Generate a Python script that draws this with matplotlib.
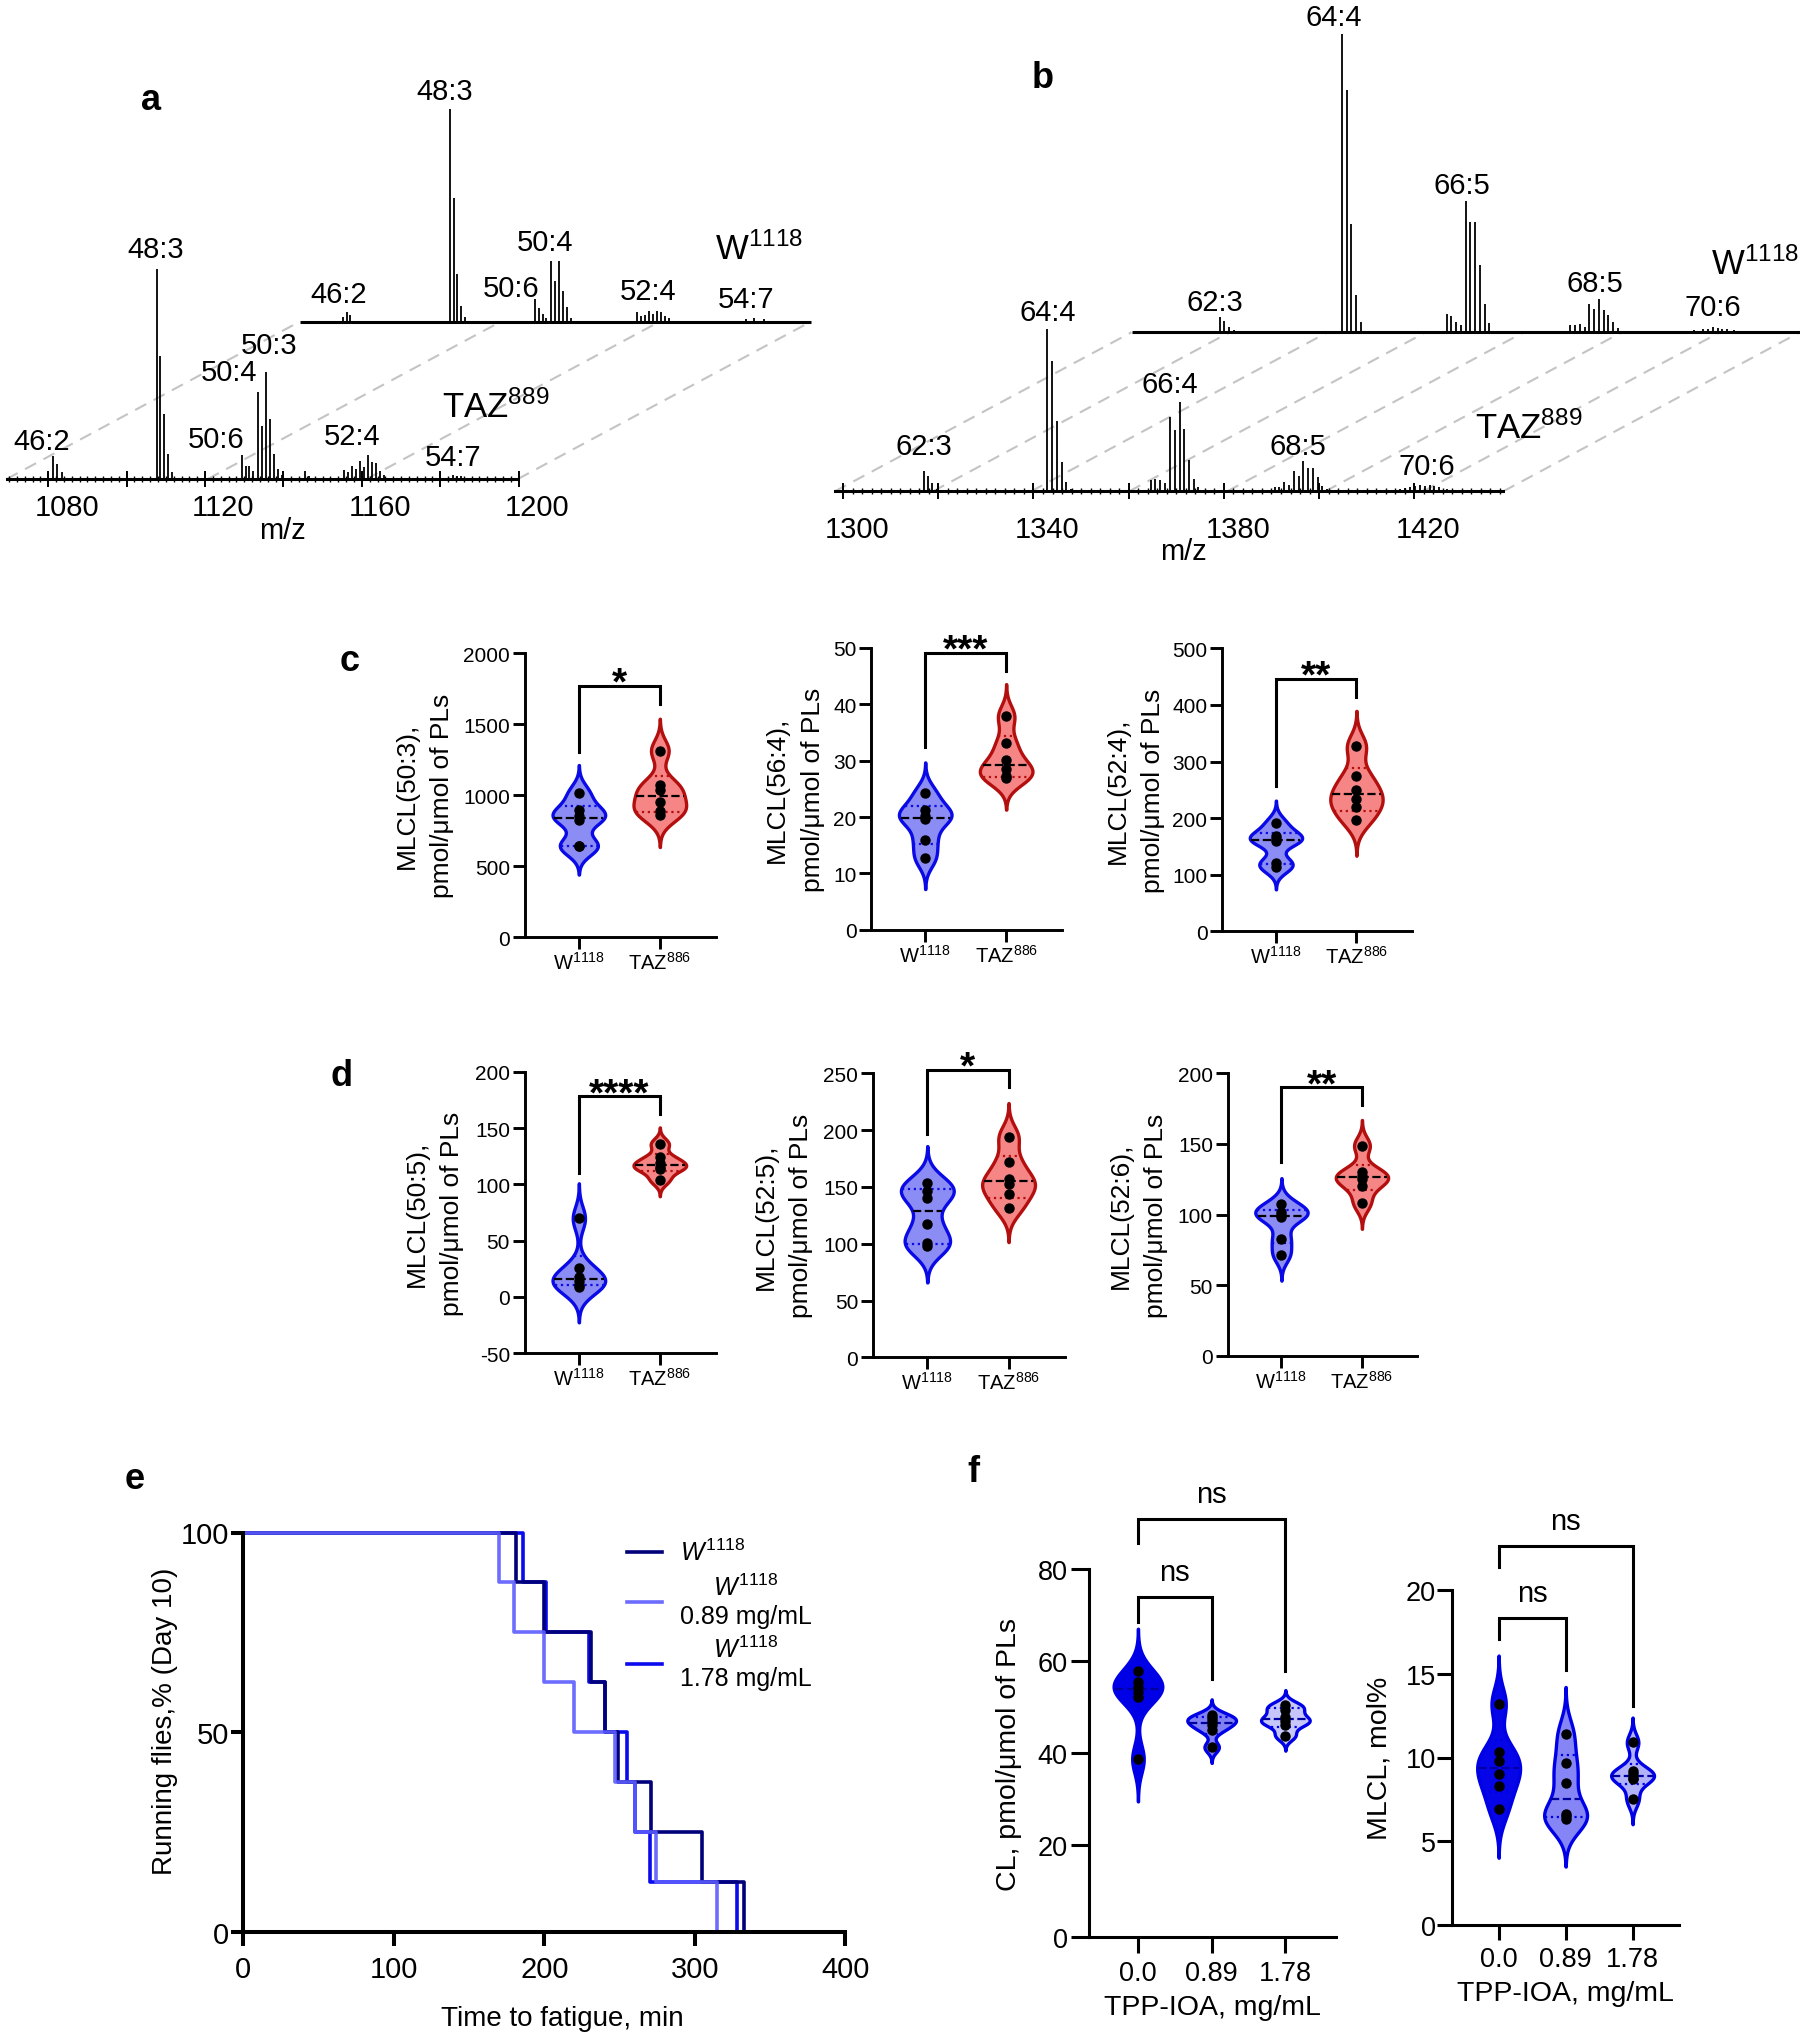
import numpy as np
import matplotlib
matplotlib.use('Agg')
import matplotlib.pyplot as plt
from matplotlib import mlab

plt.rcParams['font.family'] = ['Liberation Sans', 'DejaVu Sans']
plt.rcParams['mathtext.fontset'] = 'custom'
plt.rcParams['mathtext.rm'] = 'Liberation Sans'
plt.rcParams['mathtext.it'] = 'Liberation Sans:italic'
plt.rcParams['mathtext.bf'] = 'Liberation Sans:bold'
plt.rcParams['axes.unicode_minus'] = False

# ---------------- a: MS spectra, TAZ889 (front) and W1118 (back) ----------------
a_taz_mz = [1076.6, 1077.6, 1078.7, 1103.0, 1103.9, 1104.8, 1105.8, 1106.8,
            1124.6, 1125.7, 1126.6, 1127.6, 1128.7, 1129.7, 1130.8, 1131.9, 1132.9, 1133.9, 1134.9,
            1140.8, 1141.8, 1150.8, 1151.7, 1152.7, 1153.8, 1154.8, 1155.8, 1156.9, 1157.9,
            1158.9, 1159.9, 1161.0, 1178.6, 1179.6, 1180.6]
a_taz_int = [11.1, 7.1, 3.2, 100, 58.6, 31.0, 11.9, 3.2,
             11.4, 6.3, 6.3, 4.0, 41.6, 25.4, 51.1, 28.6, 11.9, 4.8, 1.9,
             3.7, 1.5, 4.3, 3.2, 6.3, 4.8, 8.7, 5.6, 11.4, 7.9,
             7.5, 4.0, 1.9, 1.9, 1.5, 1.2]
a_w_mz = [1075.6, 1076.6, 1077.6, 1103.0, 1103.9, 1104.8, 1105.8, 1106.8,
          1124.6, 1125.7, 1126.6, 1127.6, 1128.7, 1129.7, 1130.8, 1131.9, 1132.9, 1133.9,
          1150.8, 1151.7, 1152.7, 1153.8, 1154.8, 1155.8, 1156.9, 1157.9, 1158.9,
          1178.6, 1180.6, 1183.0]
a_w_int = [2.0, 4.3, 3.0, 101, 59, 22.5, 7.5, 2.0,
           10.6, 6.6, 3.5, 1.5, 28.9, 19.4, 28.6, 14.3, 6.7, 1.5,
           4.3, 2.5, 3.0, 4.8, 3.8, 4.8, 4.3, 2.5, 1.5,
           1.2, 1.5, 1.0]
a_ticklabels = [1080, 1120, 1160, 1200]

# ---------------- b: MS spectra, higher m/z ----------------
b_taz_mz = [1314.0, 1314.9, 1315.8, 1316.8, 1339.9, 1340.9, 1342.0, 1343.0, 1343.9, 1344.9,
            1361.7, 1362.7, 1363.7, 1364.7, 1365.8, 1366.8, 1367.9, 1368.8, 1369.8, 1370.8, 1371.7,
            1387.8, 1388.7, 1389.8, 1390.8, 1391.8, 1392.8, 1393.8, 1394.8, 1395.8, 1396.8, 1397.8, 1398.8,
            1414.1, 1415.1, 1416.2, 1417.2, 1418.3, 1419.3, 1420.3, 1421.3, 1422.3, 1423.9]
b_taz_int = [12.8, 9.7, 5.1, 1.4, 100, 80.5, 43.6, 18.3, 6.0, 1.4,
             7.0, 7.6, 7.2, 4.9, 46.0, 37.8, 55.3, 38.4, 19.3, 7.6, 2.5,
             2.5, 2.5, 5.5, 4.1, 12.8, 9.7, 18.5, 14.2, 14.2, 9.1, 3.5, 1.4,
             1.5, 2.0, 2.5, 3.0, 4.0, 3.5, 4.0, 3.0, 2.5, 1.5]
b_w_mz = [1313.9, 1314.9, 1315.9, 1316.9, 1339.6, 1340.6, 1341.6, 1342.6, 1343.6,
          1361.6, 1362.6, 1363.6, 1364.6, 1365.6, 1366.6, 1367.6, 1368.6, 1369.6, 1370.6,
          1387.6, 1388.6, 1389.6, 1390.6, 1391.6, 1392.6, 1393.6, 1394.6, 1395.6, 1396.6, 1397.6,
          1413.5, 1415.5, 1416.5, 1417.5, 1418.5, 1419.5, 1420.5, 1422.0]
b_w_int = [9.2, 7.0, 3.3, 1.2, 183.6, 149, 66.5, 23.1, 6.6,
           11, 9.9, 6.6, 4.3, 81, 68.2, 67.8, 41.2, 17.6, 5.9,
           4.5, 4.5, 5.1, 3.5, 17.4, 14.4, 20.5, 14.0, 10.7, 6.6, 2.5,
           1.2, 1.8, 2.2, 3.0, 2.5, 2.2, 1.8, 1.2]
b_ticklabels = [1300, 1340, 1380, 1420]

# ---------------- c, d: MLCL species, W1118 vs TAZ886 ----------------
c1_w = [1015, 895, 855, 825, 645, 640]
c1_taz = [1315, 1075, 1035, 950, 890, 860]
c2_w = [24.2, 21.3, 20.1, 19.6, 16.0, 12.7]
c2_taz = [37.9, 33.1, 30.1, 28.5, 27.2, 27.0]
c3_w = [191, 168, 163, 160, 121, 114]
c3_taz = [327, 275, 250, 234, 219, 196]
d1_w = [69.8, 25.7, 17.5, 13.9, 10.9, 8.6]
d1_taz = [136, 124, 119, 115, 114, 104]
d2_w = [153.5, 146.7, 140, 117.4, 100.4, 98.3]
d2_taz = [194, 171.7, 157, 152.6, 143.8, 131.2]
d3_w = [107.4, 102, 100, 98, 83, 71.5]
d3_taz = [148.8, 130.3, 127.5, 125, 120, 108]
cd_species = ['50:3', '56:4', '52:4', '50:5', '52:5', '52:6']
cd_stars = ['*', '***', '**', '****', '*', '**']
cd_categories = [r'$\mathregular{W^{1118}}$', r'$\mathregular{TAZ^{886}}$']

# ---------------- e: time to fatigue (8 flies per group) ----------------
e_times_w = [0, 181, 200, 231, 240, 249, 271, 305, 333]
e_times_089 = [0, 170, 180, 200, 220, 247, 260, 274, 315]
e_times_178 = [0, 186, 201, 230, 240, 255, 260, 270, 328]
e_running = [100, 87.5, 75, 62.5, 50, 37.5, 25, 12.5, 0]

# ---------------- f: TPP-IOA treatment ----------------
f_doses = ['0.0', '0.89', '1.78']
f_cl_0 = [57.9, 55.4, 54.5, 53.4, 52.3, 38.7]
f_cl_089 = [48.3, 47.6, 47.0, 46.2, 45.0, 41.3]
f_cl_178 = [50.5, 49.5, 47.8, 47.0, 46.2, 43.8]
f_mlcl_0 = [13.2, 10.3, 9.8, 9.0, 8.3, 6.9]
f_mlcl_089 = [11.4, 9.7, 8.5, 6.6, 6.5, 6.3]
f_mlcl_178 = [10.9, 9.2, 9.0, 8.8, 8.7, 7.5]

W, H = 1811, 2040
fig = plt.figure(figsize=(W / 100, H / 100), dpi=100)


def axes_px(left, top, right, bottom):
    return fig.add_axes([left / W, 1 - bottom / H, (right - left) / W, (bottom - top) / H])


def spectrum(ax, fmz, fint, bmz, bint, dx, dy, span, guides, major, labels, pad):
    ax.vlines(fmz, 0, fint, color='k', lw=1.3, zorder=3)
    ax.vlines(np.add(bmz, dx), dy, np.add(bint, dy), color='k', lw=1.3, zorder=3)
    ax.hlines(dy, span[0] + dx, span[1] + dx, color='k', lw=2.2, zorder=3)
    for g in guides:
        ax.plot([g, g + dx], [0, dy], color='#c4c4c4', lw=1.5, ls=(0, (6, 4)), zorder=1)
    for s in ('top', 'right', 'left'):
        ax.spines[s].set_visible(False)
    ax.spines['bottom'].set_bounds(*span)
    ax.spines['bottom'].set_linewidth(2.2)
    ax.set_yticks([])
    ax.set_xticks(major)
    start = major[0] - 2 * int((major[0] - span[0]) / 2)
    ax.set_xticks(np.arange(start, span[1] + 0.5, 2), minor=True)
    ax.tick_params(which='major', direction='inout', length=11, width=1.4, labelbottom=False)
    ax.tick_params(which='minor', direction='inout', length=5, width=1.0)
    sec = ax.secondary_xaxis('bottom')
    sec.set_xticks(labels)
    sec.tick_params(length=0, pad=pad, labelsize=21)
    sec.spines['bottom'].set_visible(False)


def put_labels(ax, items, dx=0, dy=0, size=21):
    for txt, x, y in items:
        ax.text(x + dx, y + dy, txt, ha='center', va='center', fontsize=size)


# ---- panel a
ax = axes_px(6.7, 40, 812, 480)
ax.set_xlim(1064.7, 1064.7 + (812 - 6.7) / 3.92)
ax.set_ylim(0, 440 / 2.1)
spectrum(ax, a_taz_mz, a_taz_int, a_w_mz, a_w_int, 74.8, 75.0, (1064.7, 1195.1),
         [1064.7, 1116, 1156.5, 1195.1], np.arange(1075.3, 1196, 20), a_ticklabels, 10)
put_labels(ax, [('46:2', 1073.6, 18.0), ('48:3', 1102.8, 109.5), ('50:6', 1118.1, 19.0),
                ('50:4', 1121.5, 50.8), ('50:3', 1131.7, 63.8), ('52:4', 1152.7, 20.6),
                ('54:7', 1178.6, 10.3)])
put_labels(ax, [('46:2', 1074.6, 13.1), ('48:3', 1101.6, 109.9), ('50:6', 1118.5, 15.8),
                ('50:4', 1127.3, 37.7), ('52:4', 1153.6, 14.7), ('54:7', 1178.6, 10.7)],
           dx=74.8, dy=75.0)
ax.text(1175.7, 34.3, r'$\mathregular{TAZ^{889}}$', fontsize=25, ha='left', va='center')
ax.text(1170.5 + 74.8, 34.5 + 75.0, r'$\mathregular{W^{1118}}$', fontsize=25, ha='left', va='center')
fig.text(282 / W, 1 - 531 / H, 'm/z', fontsize=21, ha='center', va='center')

# ---- panel b
ax = axes_px(835, 0, 1800, 492.3)
ax.set_xlim(1295.4, 1295.4 + 965 / 4.76)
ax.set_ylim(0, 492.3 / 1.623)
spectrum(ax, b_taz_mz, b_taz_int, b_w_mz, b_w_int, 62.3, 98.0, (1295.4, 1435.8),
         [1295.4, 1316, 1336.6, 1357.2, 1377.8, 1398.4, 1419, 1435.8],
         np.arange(1297.1, 1436, 20), b_ticklabels, 17)
put_labels(ax, [('62:3', 1314.1, 28.1), ('64:4', 1340.2, 110.3), ('66:4', 1365.8, 66.1),
                ('68:5', 1392.7, 28.1), ('70:6', 1419.7, 15.6)])
put_labels(ax, [('62:3', 1312.9, 18.5), ('64:4', 1337.9, 194.3), ('66:5', 1364.8, 90.9),
                ('68:5', 1392.7, 30.6), ('70:6', 1417.6, 15.5)], dx=62.3, dy=98.0)
ax.text(1429.9, 39.4, r'$\mathregular{TAZ^{889}}$', fontsize=25, ha='left', va='center')
ax.text(1417.2 + 62.3, 42.1 + 98.0, r'$\mathregular{W^{1118}}$', fontsize=25, ha='left', va='center')
fig.text(1183.6 / W, 1 - 552 / H, 'm/z', fontsize=21, ha='center', va='center')


def violins(ax, groups, fills, edges, meds, width, lw, bw_factor=0.45, cut=3.0):
    stats = []
    for d in groups:
        d = np.asarray(d, float)
        kde = mlab.GaussianKDE(d, bw_factor)
        bw = kde.factor * d.std(ddof=1)
        yy = np.linspace(d.min() - cut * bw, d.max() + cut * bw, 500)
        stats.append(dict(coords=yy, vals=kde.evaluate(yy), mean=d.mean(),
                          median=np.median(d), min=yy[0], max=yy[-1]))
    parts = ax.violin(stats, positions=np.arange(len(groups)), widths=width, showextrema=False)
    for i, (body, st) in enumerate(zip(parts['bodies'], stats)):
        body.set_facecolor(fills[i])
        body.set_edgecolor(edges[i])
        body.set_alpha(1)
        body.set_linewidth(lw)
        body.set_zorder(2)
        half = 0.5 * width * st['vals'] / st['vals'].max() * 0.96
        d = np.asarray(groups[i], float)
        q1, med, q3 = np.percentile(d, [25, 50, 75], method='weibull')
        for q, style, col in ((q1, ':', edges[i]), (q3, ':', edges[i]), (med, '--', meds[i])):
            hw = np.interp(q, st['coords'], half)
            ax.hlines(q, i - hw, i + hw, colors=col, linestyles=style, lw=1.6, zorder=3)
        ax.plot(np.full(len(d), i), d, 'o', color='k', ms=6.5, zorder=4, clip_on=False)


def bracket(ax, x0, x1, legs, text, size, offset, bold):
    yl, yt, yr = legs
    ax.plot([x0, x0, x1, x1], [yl, yt, yt, yr], color='k', lw=2.2, clip_on=False,
            solid_joinstyle='miter')
    ax.annotate(text, xy=((x0 + x1) / 2, yt), xytext=(0, offset), textcoords='offset pixels',
                ha='center', va='baseline', fontsize=size,
                fontweight='bold' if bold else 'normal', annotation_clip=False)


# ---- panels c, d
cd_groups = [(c1_w, c1_taz), (c2_w, c2_taz), (c3_w, c3_taz),
             (d1_w, d1_taz), (d2_w, d2_taz), (d3_w, d3_taz)]
cd_boxes = [(524.6, 654.3, 715.7, 938.3), (871, 649, 1062, 930.7), (1222, 649.3, 1412, 932.3),
            (524.6, 1072.7, 715.7, 1354.3), (872.9, 1074.3, 1064.6, 1358.3),
            (1227.5, 1074.3, 1417.5, 1356.7)]
cd_ylims = [(0, 2000, 500), (0, 50, 10), (0, 500, 100), (-50, 200, 50), (0, 250, 50), (0, 200, 50)]
cd_brackets = [(1307, 1772, 1643), (32.4, 49.2, 46.0), (256, 445.8, 414.6),
               (110.4, 178.4, 162.7), (196.6, 253.2, 237.7), (137, 190, 177.6)]
cd_label_x = [-0.369, -0.243, -0.30, -0.318, -0.313, -0.311]

for (gw, gt), box, (lo, hi, step), br, sp, st, lx in zip(cd_groups, cd_boxes, cd_ylims, cd_brackets,
                                                       cd_species, cd_stars, cd_label_x):
    ax = axes_px(*box)
    violins(ax, [gw, gt], ['#8c8cf5', '#f68686'], ['#0a0ae6', '#b30f0f'], ['k', 'k'], 0.65, 2.4)
    ax.set_xlim(-0.67, 1.69)
    ax.set_ylim(lo, hi)
    ax.set_yticks(np.arange(lo, hi + step / 2, step))
    ax.set_xticks([0, 1])
    ax.set_xticklabels(cd_categories)
    for s in ('top', 'right'):
        ax.spines[s].set_visible(False)
    for s in ('left', 'bottom'):
        ax.spines[s].set_linewidth(2.1)
    ax.tick_params(axis='y', length=9, width=2.1, pad=1.5, labelsize=15)
    ax.tick_params(axis='x', length=8.4, width=2.1, pad=1.5, labelsize=14.5)
    ax.set_ylabel(f'MLCL({sp}),\npmol/μmol of PLs', fontsize=19, linespacing=1.6)
    ax.yaxis.set_label_coords(lx, 0.5)
    bracket(ax, 0, 1, br, st, 28, -8, True)

# ---- panel e
ax = axes_px(243.3, 1533.5, 845.3, 1932.7)
l178, = ax.step(e_times_178, e_running, where='post', color='#0a0aee', lw=2.6, clip_on=False)
lw_, = ax.step(e_times_w, e_running, where='post', color='#00007a', lw=2.6, clip_on=False)
l089, = ax.step(e_times_089, e_running, where='post', color='#5c5cff', lw=2.6, alpha=0.9,
                clip_on=False)
ax.set_xlim(0, 400)
ax.set_ylim(0, 100)
ax.set_xticks([0, 100, 200, 300, 400])
ax.set_yticks([0, 50, 100])
for s in ('top', 'right'):
    ax.spines[s].set_visible(False)
for s in ('left', 'bottom'):
    ax.spines[s].set_linewidth(2.9)
ax.tick_params(axis='y', length=9, width=2.9, pad=1, labelsize=21)
ax.tick_params(axis='x', length=10, width=2.9, pad=7, labelsize=21)
ax.set_xlabel('Time to fatigue, min', fontsize=20)
ax.xaxis.set_label_coords((562.7 - 243.3) / 602, -(2006 - 1932.7) / 399.2)
ax.set_ylabel('Running flies,% (Day 10)', fontsize=20)
ax.yaxis.set_label_coords((178 - 243.3) / 602, (1932.7 - 1721) / 399.2)
leg = ax.legend([lw_, l089, l178],
                [r'$\mathit{W^{1118}}$', r'$\mathit{W^{1118}}$' + '\n0.89 mg/mL',
                 r'$\mathit{W^{1118}}$' + '\n1.78 mg/mL'],
                loc='upper left', bbox_to_anchor=(627 / W, 1 - 1540 / H),
                bbox_transform=fig.transFigure, frameon=False, fontsize=18,
                handlelength=1.4, handletextpad=0.7, labelspacing=0.33,
                borderpad=0, borderaxespad=0)
for t in leg.get_texts():
    t.set_multialignment('center')

# ---- panel f
f_specs = [
    ([f_cl_0, f_cl_089, f_cl_178], (1089.3, 1570.4, 1335.5, 1938), (0, 80, 20), (-0.66, 2.68),
     ['#0000e6', '#8080f4', '#c6c6fb'], 'CL, pmol/μmol of PLs', (-0.273, 0.499),
     [(0, 2, (85.7, 90.9, 57.9)), (0, 1, (68.6, 73.9, 56.1))], 0.66, 11.5, 13, 2.6, 5),
    ([f_mlcl_0, f_mlcl_089, f_mlcl_178], (1452.4, 1591, 1678.8, 1926), (0, 20, 5), (-0.69, 2.69),
     ['#0505e8', '#8585f5', '#b2b2fa'], 'MLCL, mol%', (-0.263, 0.5),
     [(0, 2, (21.4, 22.6, 13.1)), (0, 1, (17.1, 18.3, 15.2))], 0.64, 11, 11, 0.8, 4),
]
for (groups, box, (lo, hi, step), xl, fills, ylab, lcoords, brs, width,
     xlen, ylen, ypad, xpad) in f_specs:
    ax = axes_px(*box)
    violins(ax, groups, fills, ['#0000e6'] * 3, ['#0000a0'] * 3, width, 2.4)
    ax.set_xlim(*xl)
    ax.set_ylim(lo, hi)
    ax.set_yticks(np.arange(lo, hi + step / 2, step))
    ax.set_xticks([0, 1, 2])
    ax.set_xticklabels(f_doses)
    for s in ('top', 'right'):
        ax.spines[s].set_visible(False)
    for s in ('left', 'bottom'):
        ax.spines[s].set_linewidth(2.2)
    ax.tick_params(axis='y', length=ylen, width=2.2, pad=ypad, labelsize=19.5)
    ax.tick_params(axis='x', length=xlen, width=2.2, pad=xpad, labelsize=19.5)
    ax.set_xlabel('TPP-IOA, mg/mL', fontsize=20.5, labelpad=6)
    ax.set_ylabel(ylab, fontsize=20.5)
    ax.yaxis.set_label_coords(*lcoords)
    for x0, x1, legs in brs:
        bracket(ax, x0, x1, legs, 'ns', 21, 17, False)

# ---- panel letters
for letter, x, y in [('a', 150.9, 100), ('b', 1042.8, 78.6), ('c', 349.6, 661.7),
                     ('d', 341.6, 1076.7), ('e', 134.9, 1480), ('f', 973.8, 1472.6)]:
    fig.text(x / W, 1 - y / H, letter, fontsize=26, fontweight='bold', ha='center', va='center')

fig.savefig('out.png', dpi=100)
